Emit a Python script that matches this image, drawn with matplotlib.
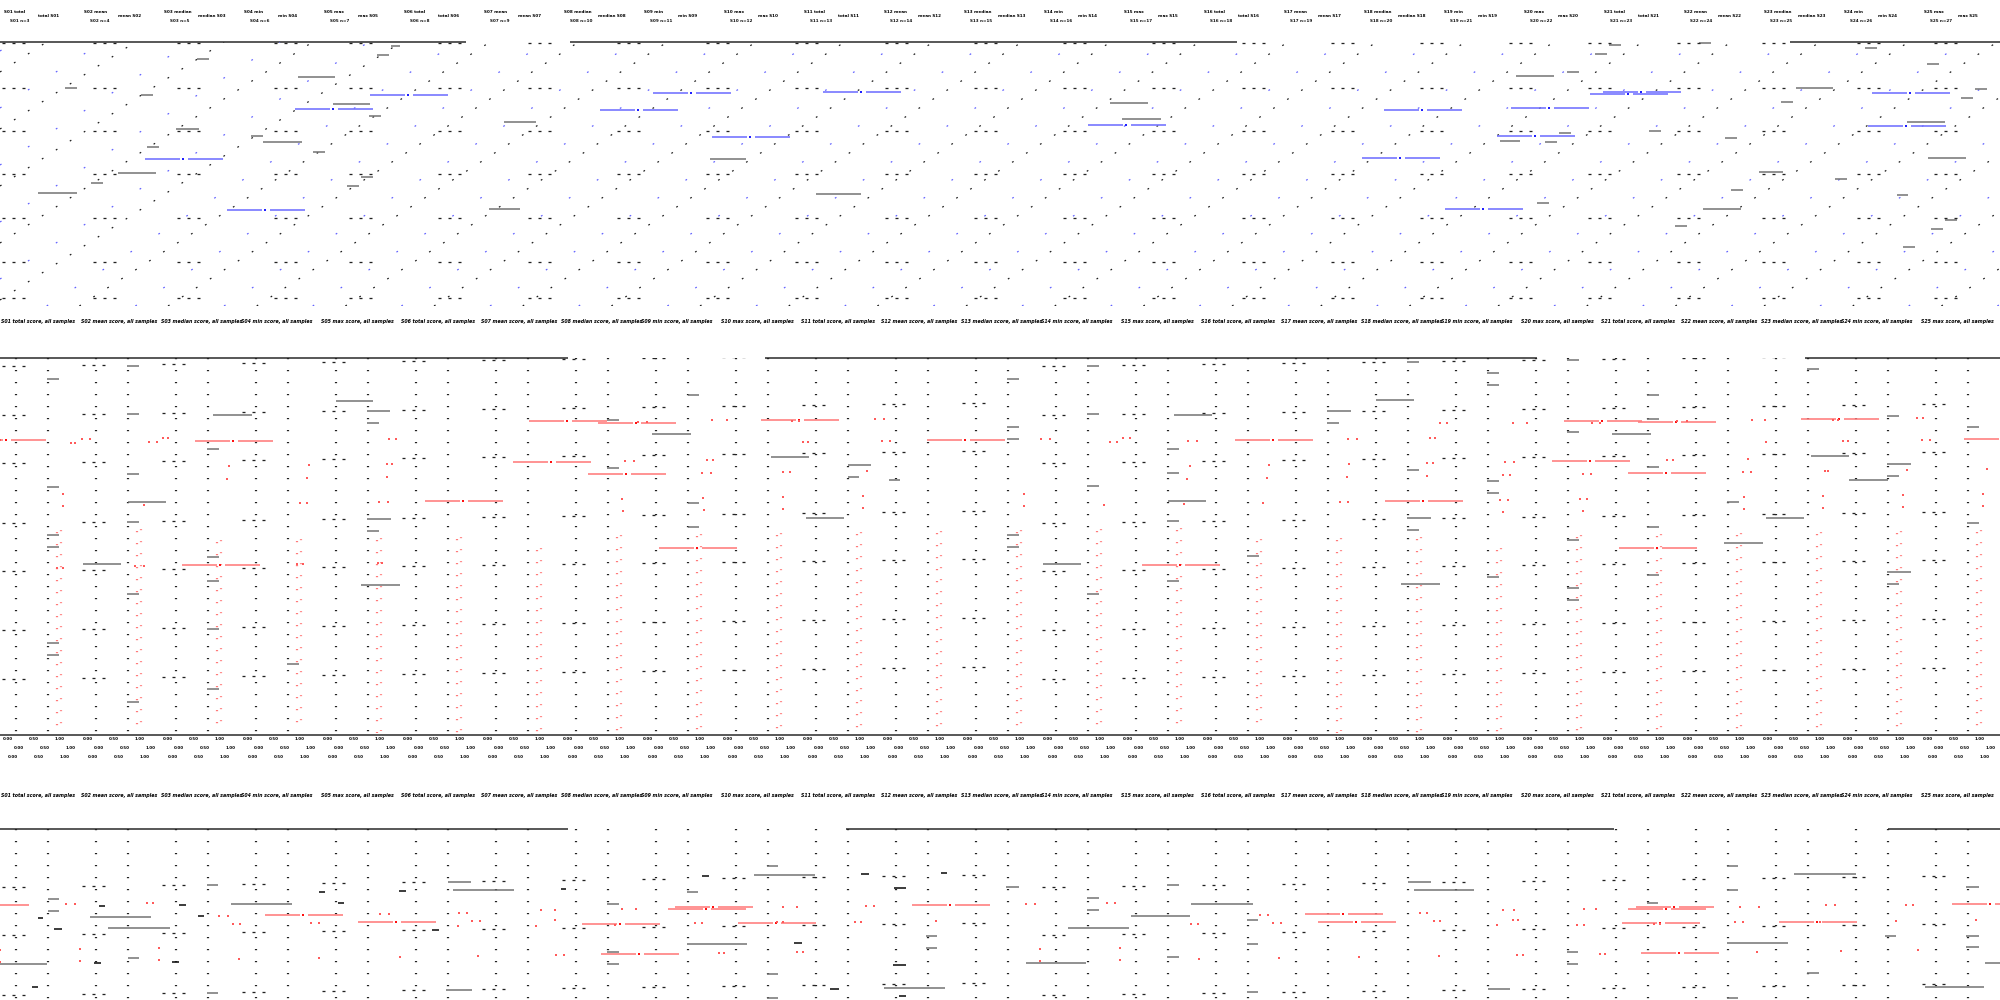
import matplotlib
matplotlib.use("Agg")
import matplotlib.pyplot as plt
from matplotlib.collections import LineCollection

plt.rcParams['font.family'] = ['DejaVu Sans']
plt.rcParams['lines.scale_dashes'] = False
PT = 0.72  # points per pixel at 100 dpi

# ------------------------------------------------------------------ data
categories = ["S01", "S02", "S03", "S04", "S05", "S06", "S07", "S08", "S09",
              "S10", "S11", "S12", "S13", "S14", "S15", "S16", "S17", "S18",
              "S19", "S20", "S21", "S22", "S23", "S24", "S25"]
col_tilt = [0, -1, -2, -3, -4, -5, -6, -7, -8, -9, -10, -11, -12,
            0, -1, -2, -3, -4, -5, -6, -7, -8, -9, -10, -11]

# ---- panel 1
p1_diag_black = [15, 72, 129, 186, 243, 300, 357, 414, 471, 528, 585, 642, 699,
                 756, 813, 870, 927, 984, 1041, 1098, 1155, 1212, 1269, 1326,
                 1383, 1440, 1497, 1554, 1611]
p1_diag_blue = [51, 108, 165, 222, 279, 336, 393, 450, 507, 564, 621, 678, 735,
                792, 849, 906, 963, 1020, 1077, 1134, 1191, 1248, 1305, 1362,
                1419, 1476, 1533, 1590, 1647]
p1_blue_x = [370, 653, 823, 1590, 1603, 1872, 295, 600, 1384, 1511, 1088, 1868,
             712, 1497, 145, 1362, 227, 1445]
p1_blue_y = [95, 93, 92, 94, 92, 93, 109, 110, 110, 108, 125, 126, 137, 136,
             159, 158, 210, 209]
p1_gray_x0 = [197, 298, 377, 333, 141, 65, 176, 251, 263, 147, 313, 369, 118, 91,
              361, 347, 38, 391, 710, 816, 1110, 1122, 504, 489,
              1516, 1567, 1595, 1609, 1699, 1796, 1781, 1865, 1927, 1907, 1961,
              1975, 1500, 1545, 1559, 1649, 1725, 1759, 1835, 1731, 1537, 1703,
              1675, 1928, 1931, 1945, 1897, 1903]
p1_gray_x1 = [209, 335, 389, 370, 153, 77, 199, 263, 302, 159, 325, 381, 156, 103,
              373, 359, 77, 400, 746, 861, 1148, 1161, 536, 520,
              1554, 1579, 1607, 1621, 1711, 1833, 1793, 1877, 1939, 1945, 1973,
              1987, 1520, 1557, 1571, 1661, 1737, 1783, 1847, 1743, 1549, 1741,
              1687, 1966, 1943, 1957, 1908, 1915]
p1_gray_y = [59, 77, 55, 104, 95, 88, 129, 136, 142, 147, 152, 116, 173, 183,
             177, 186, 193, 46, 159, 194, 103, 119, 122, 209,
             76, 72, 54, 45, 43, 88, 102, 48, 64, 122, 98, 89, 141, 142, 133,
             131, 138, 172, 179, 190, 203, 209, 226, 158, 229, 220, 195, 247]
p1_label_x = [0, 91, 175, 272, 347, 436, 526, 615, 704, 793, 883, 972, 1061,
              1150, 1240, 1329, 1418, 1507, 1586, 1675, 1760, 1855, 1932]
p1_label_y = [43, 88, 131, 174, 218, 262, 298]

# ---- panel 2
p2_red_start = [532, 531, 542, 541, 540, 539, 550, 537, 536, 535, 534, 533, 532,
                531, 530, 541, 540, 539, 550, 537, 536, 535, 534, 533, 532]
p2_pair_x = [529, 598, 761, 1564, 1638, 1801, -32, 195, 927, 1235, 1964,
             513, 1552, 588, 1628, 425, 1385, 182, 659, 1619, 1142]
p2_pair_y = [421, 423, 420, 421, 422, 419, 440, 441, 440, 440, 439,
             462, 461, 474, 473, 501, 501, 565, 548, 548, 565]
p2_dot_x = [638, 647, 712, 727, 625, 634, 707, 713, 702, 711, 783, 790, 792, 799,
            803, 808, 622, 703, 783, 623, 704, 783, 863, 863, 875, 884, 882, 890,
            867, 1041, 1050, 1110, 1117, 1123, 1130, 1188, 1197, 1348, 1357, 1430,
            1435, 1440, 1447, 1427, 1433, 1427, 1349, 1347, 1269, 1267, 1190,
            1187, 1024, 1024, 1104, 1184, 1263, 1340, 1348, 1513, 1527, 1505,
            1514, 1503, 1510, 1500, 1508, 1503, 1583, 1591, 1580, 1587, 1583,
            1592, 1600, 1677, 1687, 1667, 1673, 1752, 1765, 1748, 1743, 1751,
            1744, 1744, 1766, 1833, 1838, 1843, 1848, 1825, 1828, 1823, 1823,
            1917, 1923, 1922, 1930, 1907, 1903, 1903, 1983, 1983, 1987,
            57, 63, 135, 144, 297, 303, 378, 382, 63, 144, 300, 307, 379, 388,
            0, 82, 90, 71, 75, 149, 157, 163, 168, 229, 227, 309, 307, 389, 396,
            387, 392, 387, 63]
p2_dot_y = [422, 422, 420, 420, 461, 461, 460, 460, 473, 473, 472, 472, 421, 421,
            442, 442, 499, 498, 497, 511, 510, 509, 496, 508, 419, 419, 441, 441,
            471, 439, 439, 442, 442, 438, 438, 441, 441, 439, 439, 438,
            438, 423, 423, 463, 463, 476, 464, 477, 465, 478, 466,
            479, 494, 506, 505, 504, 503, 502, 502, 423, 423, 462,
            462, 475, 475, 500, 500, 512, 474, 474, 499, 499, 511,
            423, 423, 421, 421, 460, 460, 420, 420, 459, 472, 472,
            497, 509, 442, 420, 420, 441, 441, 471, 471, 496, 508,
            418, 418, 440, 440, 470, 495, 507, 494, 506, 469,
            568, 568, 566, 566, 564, 564, 563, 563, 506, 505, 503, 503, 502, 502,
            440, 439, 439, 443, 443, 442, 442, 438, 438, 466, 479, 465, 478, 439,
            439, 464, 464, 477, 494]
p2_gray_x0 = [47, 47, 83, 127, 128, 207, 207, 127, 207, 47, 47, 207, 127, 287, 367,
              367, 361, 127, 47, 127, 213, 207, 336, 367, 367, 127, 47,
              607, 652, 607, 688, 688, 688, 771, 806, 848, 848, 889,
              1007, 1007, 1007, 1087, 1087, 1087, 1167, 1167, 1167, 1174, 1168,
              1007, 1007, 1043, 1087, 1167, 1247, 1327, 1327, 1376, 1407, 1407,
              1407, 1407, 1401, 1487, 1487, 1487, 1487, 1487,
              1567, 1647, 1647, 1567, 1612, 1647, 1647, 1567, 1647, 1567, 1567,
              1727, 1724, 1766, 1807, 1811, 1849, 1887, 1887, 1887, 1887, 1887,
              1967, 1967]
p2_gray_x1 = [59, 59, 121, 139, 166, 219, 219, 139, 219, 59, 59, 219, 139, 299, 391,
              379, 400, 139, 59, 139, 252, 219, 373, 390, 379, 139, 59,
              619, 691, 619, 699, 699, 699, 809, 844, 871, 859, 900,
              1019, 1019, 1019, 1099, 1099, 1099, 1179, 1179, 1179, 1212, 1206,
              1019, 1019, 1081, 1099, 1179, 1259, 1351, 1339, 1414, 1419, 1419,
              1431, 1419, 1440, 1499, 1499, 1499, 1499, 1499,
              1579, 1659, 1659, 1579, 1651, 1659, 1659, 1579, 1659, 1579, 1579,
              1739, 1763, 1804, 1819, 1849, 1888, 1899, 1911, 1899, 1911, 1899,
              1979, 1979]
p2_gray_y = [535, 547, 564, 522, 502, 557, 581, 594, 629, 643, 655, 689, 702, 664,
             519, 531, 585, 366, 379, 414, 415, 449, 401, 411, 423, 474, 487,
             420, 434, 468, 395, 503, 527, 457, 518, 465, 477, 480,
             379, 427, 439, 366, 414, 486, 449, 473, 521, 415, 501,
             535, 547, 564, 594, 581, 556, 411, 423, 400, 362, 470,
             518, 530, 584, 373, 385, 481, 493, 577,
             360, 395, 419, 432, 434, 467, 527, 540, 575, 588, 600,
             502, 543, 518, 369, 456, 480, 416, 464, 476, 572, 584,
             427, 523]
p2_label_y = [366, 415, 463, 523, 571, 630, 679]

# ---- panel 3
p3_pair_x = [-49, 265, 358, 582, 601, 675, 668, 738, 912,
             1305, 1318, 1636, 1628, 1622, 1641, 1779, 1952]
p3_pair_y = [905, 915, 922, 924, 954, 907, 909, 923, 905,
             914, 922, 907, 909, 923, 953, 922, 904]
p3_dot_x = [66, 75, 147, 153, 219, 228, 233, 240, 311, 319, 380, 389, 459, 467,
            472, 480, 458, 478, 541, 555, 555, 536, 615, 622, 636, 695, 702, 719,
            724, 783, 797, 777, 783, 797, 803, 855, 861, 866, 874, 936, 319, 239,
            159, 80, 0, 159, 80, 0, 400, 556, 564,
            1026, 1035, 1107, 1115, 1191, 1198, 1260, 1268, 1273, 1281, 1420, 1427,
            1434, 1440, 1503, 1514, 1513, 1518, 1497, 1577, 1584, 1584, 1596, 1654,
            1660, 1740, 1759, 1735, 1743, 1757, 1826, 1835, 1820, 1841, 1896,
            1906, 1913, 1976, 1040, 1040, 1120, 1120, 1199, 1279, 1359, 1439,
            1517, 1523, 1600, 1605, 1918]
p3_dot_y = [904, 904, 903, 903, 916, 916, 924, 924, 923, 923, 914, 914, 913, 913,
            921, 921, 926, 956, 910, 910, 920, 926, 925, 909, 909, 923, 923, 953,
            953, 907, 907, 922, 922, 952, 952, 922, 922, 906, 906, 921, 958, 959,
            960, 961, 962, 948, 949, 950, 957, 955, 955,
            904, 904, 903, 903, 924, 924, 915, 915, 923, 923, 913, 913,
            921, 921, 910, 910, 920, 920, 925, 925, 925, 909, 909, 924,
            924, 907, 907, 922, 922, 952, 905, 905, 922, 951, 921,
            905, 905, 920, 949, 961, 948, 960, 959, 958, 957, 956,
            955, 955, 954, 954, 950]
p3_gray_x0 = [231, 90, 108, 0, 453, 754, 687, 884, 448, 446, 1191, 1131, 1068,
              1026, 1414, 1794, 1727, 1925, 1408, 1488,
              48, 48, 207, 128, 607, 607, 607, 687, 767, 926, 926, 207, 767, 767,
              1006, 1087, 1087, 1167, 1247, 1247, 1167, 1247, 1567, 1567, 1647,
              1727, 1727, 1885, 1966, 1966, 1966, 1985, 1807, 1727]
p3_gray_x1 = [292, 151, 170, 47, 514, 815, 747, 945, 471, 472, 1253, 1190, 1129,
              1086, 1474, 1856, 1788, 1984, 1431, 1510,
              59, 59, 218, 139, 619, 619, 619, 698, 778, 937, 937, 218, 778, 778,
              1019, 1099, 1099, 1179, 1258, 1258, 1179, 1258, 1578, 1578, 1658,
              1738, 1738, 1896, 1979, 1979, 1979, 2000, 1819, 1738]
p3_gray_y = [904, 917, 928, 964, 890, 875, 944, 988, 882, 990, 904, 916, 928,
             963, 890, 874, 943, 987, 882, 989,
             899, 911, 885, 958, 904, 952, 964, 892, 866, 936, 948, 993, 974, 998,
             887, 898, 910, 885, 920, 944, 957, 992, 952, 964, 903,
             866, 890, 936, 887, 936, 947, 963, 973, 998]
p3_black_x0 = [99, 179, 38, 54, 198, 319, 338, 399, 432, 561, 702, 794, 861, 894,
               941, 893, 94, 172, 32, 830, 899]
p3_black_x1 = [105, 186, 43, 62, 204, 325, 344, 406, 439, 566, 709, 802, 869, 906,
               947, 906, 101, 179, 38, 839, 906]
p3_black_y = [906, 905, 918, 929, 916, 892, 903, 891, 930, 889, 876, 943, 874,
              888, 873, 965, 963, 962, 987, 989, 996]
p3_label_y = [887, 935, 995]

# ---- frame lines (panel borders)
frame_y = [42, 358, 735, 829]
frame_x0 = [[0, 570, 1790], [0, 765, 1805], [0], [0, 846, 1888]]
frame_x1 = [[466, 1237, 2000], [568, 1537, 2000], [2000], [568, 1614, 2000]]

# ---- text rows
header_words = ["total", "mean", "median", "min", "max"]
tick_words = ["0.00", "0.50", "1.00"]

# ------------------------------------------------------------------ figure
fig = plt.figure(figsize=(20, 10), dpi=100)
bg = fig.add_axes([0, 0, 1, 1])
bg.set_xlim(0, 2000)
bg.set_ylim(1000, 0)
bg.axis('off')


def panel(top, bottom):
    ax = fig.add_axes([0, 1 - bottom / 1000, 1, (bottom - top) / 1000])
    ax.set_xlim(0, 2000)
    ax.set_ylim(bottom, top)
    ax.axis('off')
    return ax


ax1 = panel(42, 306)
ax2 = panel(358, 735)
ax3 = panel(829, 1000)

SEG, GAP = 35, 8   # pair segment length / gap in px


def hsegs(ax, x0s, x1s, ys, color, lw_px, ls='solid', z=3):
    segs = [[(a, y), (b, y)] for a, b, y in zip(x0s, x1s, ys)]
    lc = LineCollection(segs, colors=color, linewidths=lw_px * PT,
                        linestyles=ls, capstyle='butt', zorder=z)
    ax.add_collection(lc)


def pairs(ax, xs, ys, color, dark):
    x0 = []
    x1 = []
    yy = []
    for x, y in zip(xs, ys):
        x0 += [x, x + SEG + GAP]
        x1 += [x + SEG, x + 2 * SEG + GAP]
        yy += [y, y]
    hsegs(ax, x0, x1, yy, color, 1.6, z=4)
    ax.scatter([x + SEG + 3 for x in xs], ys, s=2.5, marker='s', color=dark,
               linewidths=0, zorder=5)


def label_groups(ax, xs, bands, tilt=None):
    x0 = []
    x1 = []
    yy = []
    for b in bands:
        for i, x in enumerate(xs):
            t = tilt[i] if tilt is not None else 0
            x0.append(x + 2)
            x1.append(x + 28)
            yy.append(b + t)
    hsegs(ax, x0, x1, yy, '#222222', 1.3, ls=(0, (3.0 * PT, 7.0 * PT)))


# ---- panel 1
for b in p1_diag_black:
    ax1.axline((0, b), slope=-9 / 14, color='#1a1a1a', lw=1.2 * PT,
               linestyle=(0, (1.8 * PT, 14.8 * PT)), zorder=2)
for b in p1_diag_blue:
    ax1.axline((0, b), slope=-9 / 14, color='#6060ff', lw=1.2 * PT,
               linestyle=(0, (1.8 * PT, 31.4 * PT)), zorder=2)
hsegs(ax1, p1_gray_x0, p1_gray_x1, p1_gray_y, '#707070', 1.5)
pairs(ax1, p1_blue_x, p1_blue_y, '#7070ff', '#2020ff')
label_groups(ax1, p1_label_x, p1_label_y)

# ---- panel 2 and 3 category columns (dotted grid)
col_a = [80 * i + 16 for i in range(len(categories))]
col_b = [80 * i + 48 for i in range(len(categories))]
col_x = [80 * i for i in range(len(categories))]
for ax, top, bot in ((ax2, 358, 735), (ax3, 829, 1000)):
    ax.vlines(col_a + col_b, top, bot, colors='#222222', lw=2.2 * PT,
              linestyles=[(0, (1.2 * PT, 10.8 * PT))], zorder=2)

# red dotted columns
ax2.vlines([80 * i + 57 for i in range(len(categories))], p2_red_start, 733,
           colors='#ff7a7a', lw=2.2 * PT, linestyles=[(0, (1.2 * PT, 10.8 * PT))],
           zorder=3)
ax2.vlines([80 * i + 61 for i in range(len(categories))],
           [s - 2 for s in p2_red_start], 731, colors='#ff8f8f', lw=2.2 * PT,
           linestyles=[(0, (1.2 * PT, 10.8 * PT))], zorder=3)

hsegs(ax2, p2_gray_x0, p2_gray_x1, p2_gray_y, '#707070', 1.5)
pairs(ax2, p2_pair_x, p2_pair_y, '#ff7b7b', '#ff1010')
ax2.scatter(p2_dot_x, p2_dot_y, s=2.6, marker='s', color='#ff5a5a',
            linewidths=0, zorder=5)
label_groups(ax2, col_x, p2_label_y, col_tilt)

hsegs(ax3, p3_gray_x0, p3_gray_x1, p3_gray_y, '#707070', 1.5)
hsegs(ax3, p3_black_x0, p3_black_x1, p3_black_y, '#111111', 1.6)
pairs(ax3, p3_pair_x, p3_pair_y, '#ff7b7b', '#ff1010')
ax3.scatter(p3_dot_x, p3_dot_y, s=2.6, marker='s', color='#ff5a5a',
            linewidths=0, zorder=5)
label_groups(ax3, col_x, p3_label_y, col_tilt)

# ---- frame lines
for y, xs0, xs1 in zip(frame_y, frame_x0, frame_x1):
    bg.hlines([y] * len(xs0), xs0, xs1, colors='#333333', lw=1.6 * PT)

# ---- text rows
for i, c in enumerate(categories):
    x = 80 * i
    w = header_words[i % len(header_words)]
    bg.text(x + 4, 12, f"{c} {w}", fontsize=3.0, color='#000000', va='center',
            weight='bold')
    bg.text(x + 38, 16, f"{w} {c}", fontsize=3.0, color='#000000', va='center',
            weight='bold')
    bg.text(x + 10, 20.5, f"{c} n={i + 3}", fontsize=3.0, color='#111111',
            va='center', weight='bold')
    # panel titles (dense italic rows)
    for ty in (322, 795):
        bg.text(x + 1, ty, f"{c} {w} score, all samples", fontsize=3.4,
                style='italic', color='#000000', va='center', weight='bold')
    # tick label rows below panel 2
    for j, t in enumerate(tick_words):
        bg.text(x + 3 + 26 * j, 739, t, fontsize=2.9, color='#000000',
                va='center', weight='bold')
        bg.text(x + 14 + 26 * j, 748, t, fontsize=2.9, color='#000000',
                va='center', weight='bold')
        bg.text(x + 8 + 26 * j, 757, t, fontsize=2.9, color='#000000',
                va='center', weight='bold')

fig.savefig("out.png", dpi=100)
